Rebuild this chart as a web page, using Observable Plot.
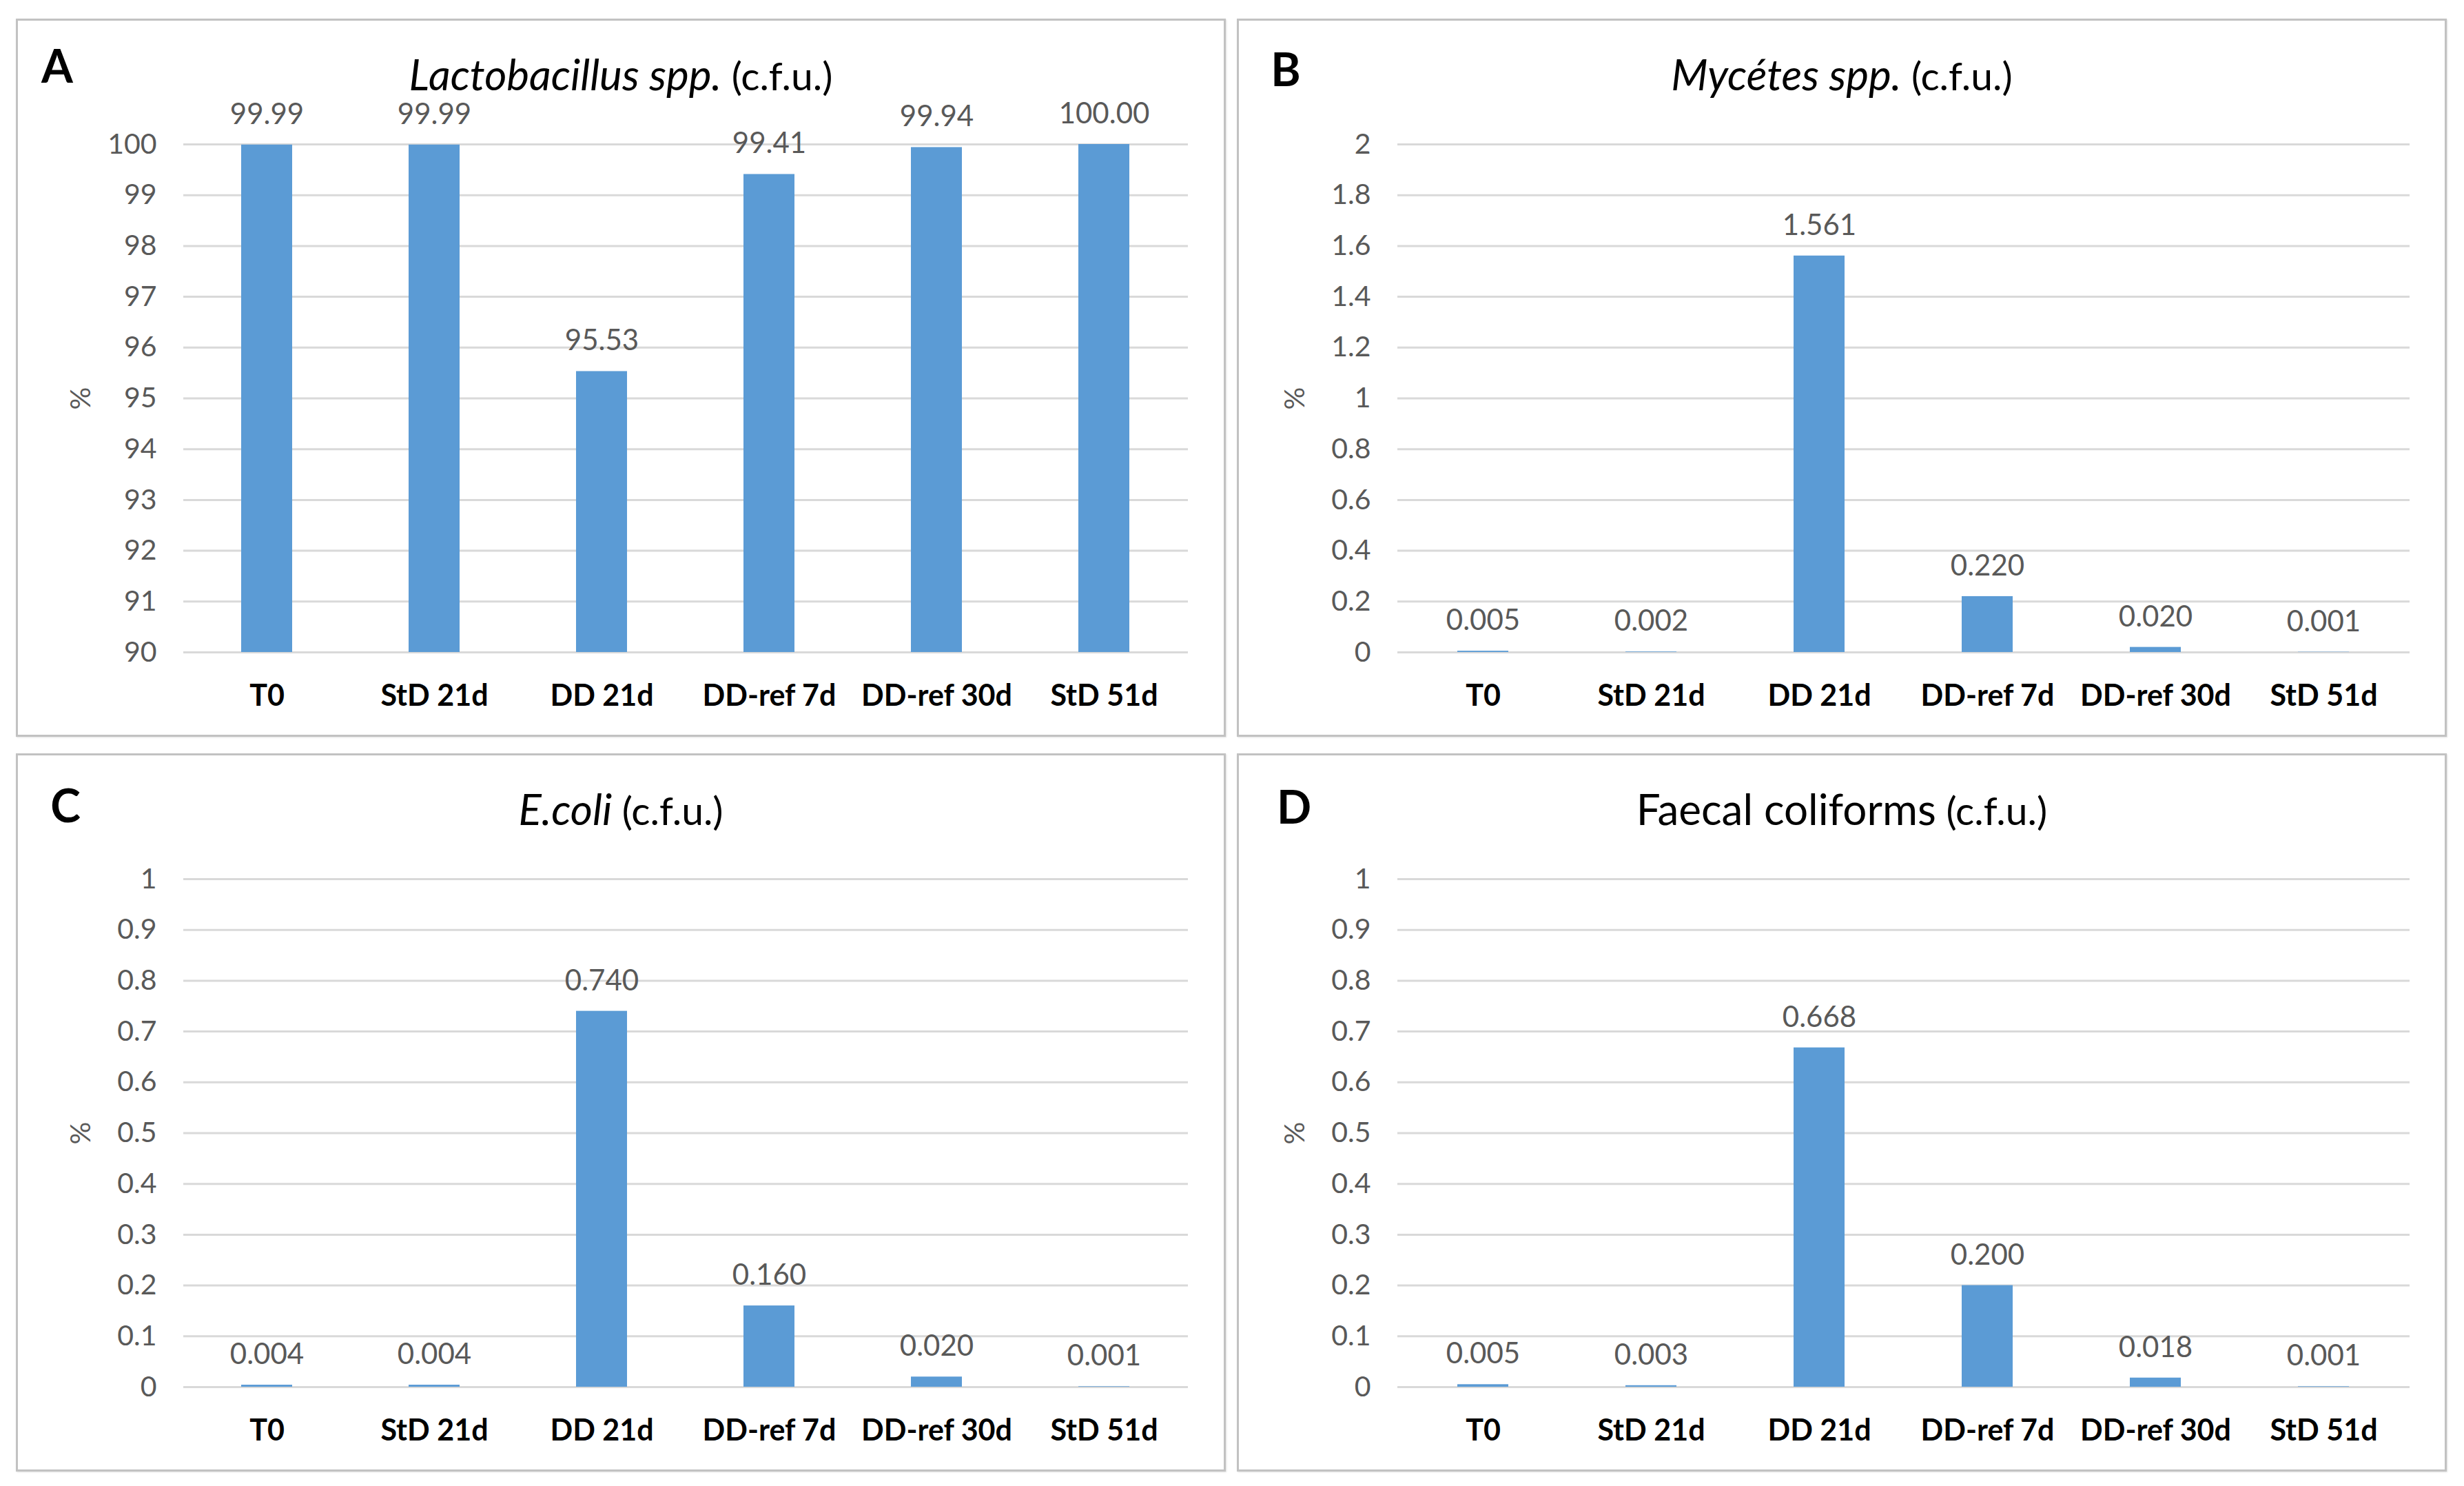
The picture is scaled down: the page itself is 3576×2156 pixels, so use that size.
<!DOCTYPE html>
<html><head><meta charset="utf-8">
<script src="https://cdn.jsdelivr.net/npm/d3@7"></script>
<script src="https://cdn.jsdelivr.net/npm/@observablehq/plot@0.6"></script>
<style>
html,body{margin:0;padding:0;background:#fff;}
#root{position:relative;width:3576px;height:2156px;background:#fff;overflow:hidden;}
.panel{position:absolute;box-sizing:border-box;border:3px solid #c2c2c2;box-shadow:1px 1px 2px rgba(0,0,0,0.12);}
.chart{position:absolute;}
</style></head><body><div id="root"></div>
<script>
const categories = ["T0", "StD 21d", "DD 21d", "DD-ref 7d", "DD-ref 30d", "StD 51d"];
const lactobacillus = [99.99, 99.99, 95.53, 99.41, 99.94, 100.00];
const mycetes = [0.005, 0.002, 1.561, 0.220, 0.020, 0.001];
const ecoli = [0.004, 0.004, 0.740, 0.160, 0.020, 0.001];
const faecal = [0.005, 0.003, 0.668, 0.200, 0.018, 0.001];
const ticksA = [90, 91, 92, 93, 94, 95, 96, 97, 98, 99, 100];
const ticksB = [0, 0.2, 0.4, 0.6, 0.8, 1, 1.2, 1.4, 1.6, 1.8, 2];
const ticksCD = [0, 0.1, 0.2, 0.3, 0.4, 0.5, 0.6, 0.7, 0.8, 0.9, 1];
const yLabel = "%";

const panels = [
  {letter: "A", italic: "Lactobacillus spp.", rest: " (c.f.u.)", values: lactobacillus, domain: [90, 100], ticks: ticksA, decimals: 2,
   left: 23, top: 27, w: 1756, h: 1042, mL: 243, mR: 55, letterX: 60, letterY: 93},
  {letter: "B", italic: "Mycétes spp.", rest: " (c.f.u.)", values: mycetes, domain: [0, 2], ticks: ticksB, decimals: 3,
   left: 1795, top: 27, w: 1756, h: 1042, mL: 233, mR: 54, letterX: 71, letterY: 98},
  {letter: "C", italic: "E.coli", rest: " (c.f.u.)", values: ecoli, domain: [0, 1], ticks: ticksCD, decimals: 3,
   left: 23, top: 1093, w: 1756, h: 1042, mL: 243, mR: 55, letterX: 72, letterY: 100},
  {letter: "D", italic: "", rest: "", plain: "Faecal coliforms", values: faecal, domain: [0, 1], ticks: ticksCD, decimals: 3,
   left: 1795, top: 1093, w: 1756, h: 1042, mL: 233, mR: 54, letterX: 83, letterY: 102}
];

const root = document.getElementById("root");
const FONT = "Lato, 'Open Sans', sans-serif";

for (const p of panels) {
  const data = categories.map((c, i) => ({cat: c, value: p.values[i]}));
  const border = document.createElement("div");
  border.className = "panel";
  Object.assign(border.style, {left: p.left + "px", top: p.top + "px", width: p.w + "px", height: p.h + "px"});
  root.appendChild(border);

  const chart = Plot.plot({
    width: p.w, height: p.h,
    marginLeft: p.mL, marginRight: p.mR, marginTop: 182, marginBottom: 123,
    style: {fontFamily: FONT, background: "transparent", overflow: "visible"},
    x: {domain: categories, paddingInner: 0.695, paddingOuter: 0.3475, label: null},
    y: {domain: p.domain, label: null},
    marks: [
      Plot.gridY(p.ticks, {stroke: "#d9d9d9", strokeOpacity: 1, strokeWidth: 3}),
      Plot.barY(data, {x: "cat", y1: p.domain[0], y2: "value", fill: "#5b9bd5"}),
      Plot.text(data, {x: "cat", y: "value", text: d => d.value.toFixed(p.decimals), dy: -44, fontSize: 42, fill: "#595959"}),
      Plot.axisX({tickSize: 0, tickPadding: 47, fontSize: 43, fontWeight: "bold", fill: "#000", label: null}),
      Plot.axisY(p.ticks, {tickSize: 0, tickPadding: 39, fontSize: 41, fill: "#595959", tickFormat: d3.format("~g"), label: null}),
      Plot.text([yLabel], {frameAnchor: "left", rotate: -90, dx: -149, textAnchor: "middle", fontSize: 41, fill: "#595959"})
    ]
  });
  chart.classList.add("chart");
  Object.assign(chart.style, {left: p.left + "px", top: p.top + "px"});
  const svg = d3.select(chart);
  const t = svg.append("text")
    .attr("x", p.w / 2).attr("y", 104)
    .attr("text-anchor", "middle")
    .attr("font-family", FONT).attr("font-size", 62).attr("fill", "#000");
  if (p.plain) {
    t.append("tspan").text(p.plain);
    t.append("tspan").attr("font-size", 57).text(" (c.f.u.)");
  } else {
    t.append("tspan").attr("font-style", "italic").text(p.italic);
    t.append("tspan").attr("font-size", 57).text(p.rest);
  }
  svg.append("text")
    .attr("x", p.letterX).attr("y", p.letterY)
    .attr("font-family", FONT).attr("font-weight", "bold").attr("font-size", 66).attr("fill", "#000")
    .text(p.letter);
  root.appendChild(chart);
}
</script></body></html>
